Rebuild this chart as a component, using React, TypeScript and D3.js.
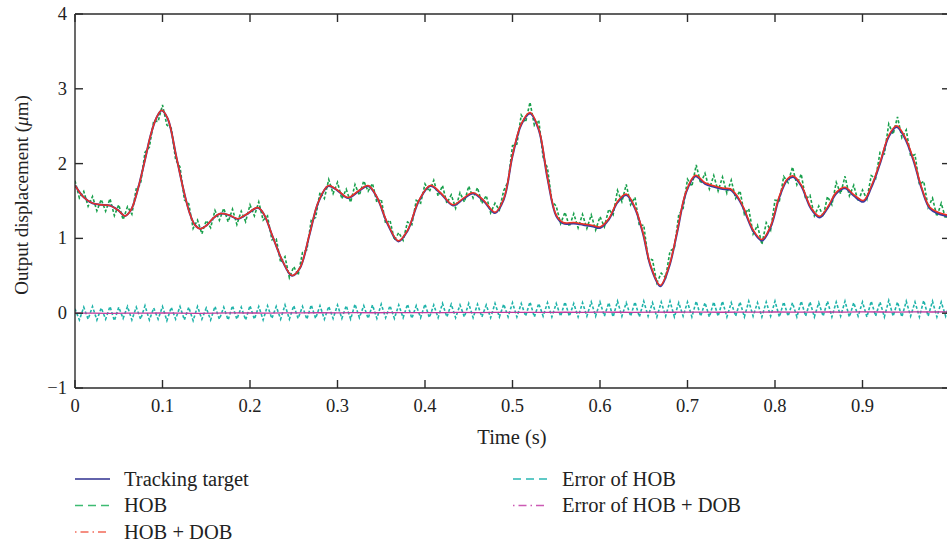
import React from "react";
import * as d3 from "d3";

// ---------- data ----------
const targetT = [
  0.0, 0.01, 0.02, 0.03, 0.04, 0.05, 0.057, 0.064, 0.071, 0.08, 0.086, 0.093, 0.099, 0.106, 0.116,
  0.124, 0.131, 0.137, 0.143, 0.15, 0.158, 0.166, 0.176, 0.186, 0.196, 0.209, 0.216, 0.226, 0.237,
  0.248, 0.257, 0.268, 0.278, 0.2895, 0.3, 0.312, 0.324, 0.335, 0.345, 0.357, 0.3695, 0.38, 0.393,
  0.406, 0.418, 0.432, 0.444, 0.455, 0.467, 0.48, 0.49, 0.5, 0.51, 0.52, 0.53, 0.54, 0.55, 0.558,
  0.57, 0.581, 0.592, 0.6, 0.61, 0.62, 0.63, 0.64, 0.649, 0.658, 0.669, 0.679, 0.688, 0.698, 0.709,
  0.72, 0.73, 0.74, 0.749, 0.757, 0.764, 0.775, 0.785, 0.795, 0.805, 0.814, 0.821, 0.83, 0.841,
  0.851, 0.86, 0.87, 0.88, 0.89, 0.901, 0.91, 0.92, 0.93, 0.939, 0.948, 0.958, 0.968, 0.977, 0.987,
  0.996, 1.0,
];
const targetV = [
  1.71, 1.55, 1.47, 1.45, 1.44, 1.37, 1.3, 1.38, 1.62, 2.05, 2.36, 2.61, 2.71, 2.6, 2.08,
  1.65, 1.34, 1.18, 1.13, 1.17, 1.27, 1.33, 1.31, 1.26, 1.32, 1.41, 1.32, 1.02, 0.7,
  0.5, 0.6, 1.05, 1.48, 1.7, 1.64, 1.54, 1.63, 1.7, 1.55, 1.2, 0.96, 1.1, 1.5,
  1.7, 1.6, 1.44, 1.53, 1.6, 1.5, 1.34, 1.52, 2.1, 2.52, 2.67, 2.45, 1.8, 1.3, 1.2,
  1.2, 1.18, 1.16, 1.14, 1.25, 1.48, 1.58, 1.4, 1.07, 0.62, 0.36, 0.62, 1.07, 1.6, 1.83,
  1.73, 1.69, 1.66, 1.65, 1.55, 1.4, 1.1, 0.97, 1.15, 1.55, 1.78, 1.82, 1.7, 1.4,
  1.28, 1.4, 1.6, 1.67, 1.57, 1.49, 1.68, 2.0, 2.36, 2.49, 2.35, 2.05, 1.65, 1.4, 1.33,
  1.3, 1.28,
];

// error of HOB, sampled every 0.005 s (0 .. 1 s)
const errHobStep = 0.005;
const errHob = [
  0.06, -0.09, 0.08, -0.08, 0.09, -0.09, 0.07, -0.08, 0.09, -0.1, 0.08, -0.07, 0.09, -0.09, 0.08, -0.08, 0.1, -0.09, 0.07, -0.08,
  0.09, -0.1, 0.08, -0.08, 0.09, -0.09, 0.08, -0.1, 0.09, -0.08, 0.07, -0.09, 0.09, -0.08, 0.08, -0.09, 0.1, -0.08, 0.08, -0.09,
  0.1, -0.08, 0.09, -0.09, 0.1, -0.07, 0.09, -0.08, 0.11, -0.08, 0.1, -0.07, 0.09, -0.08, 0.11, -0.07, 0.1, -0.08, 0.09, -0.07,
  0.11, -0.07, 0.1, -0.08, 0.12, -0.06, 0.1, -0.07, 0.11, -0.07, 0.12, -0.06, 0.1, -0.07, 0.11, -0.06, 0.12, -0.07, 0.1, -0.06,
  0.12, -0.06, 0.11, -0.06, 0.13, -0.05, 0.12, -0.06, 0.11, -0.05, 0.13, -0.06, 0.12, -0.05, 0.11, -0.06, 0.13, -0.05, 0.12, -0.05,
  0.14, -0.05, 0.13, -0.04, 0.15, -0.05, 0.13, -0.04, 0.14, -0.05, 0.13, -0.04, 0.15, -0.04, 0.13, -0.05, 0.14, -0.04, 0.15, -0.04,
  0.15, -0.04, 0.14, -0.05, 0.16, -0.04, 0.14, -0.04, 0.15, -0.05, 0.16, -0.04, 0.14, -0.05, 0.15, -0.04, 0.16, -0.05, 0.14, -0.04,
  0.15, -0.05, 0.16, -0.04, 0.14, -0.05, 0.15, -0.04, 0.16, -0.05, 0.14, -0.04, 0.15, -0.05, 0.16, -0.04, 0.14, -0.05, 0.15, -0.04,
  0.16, -0.05, 0.15, -0.04, 0.14, -0.05, 0.16, -0.04, 0.15, -0.05, 0.14, -0.04, 0.16, -0.05, 0.15, -0.04, 0.16, -0.05, 0.14, -0.04,
  0.15, -0.05, 0.16, -0.04, 0.15, -0.05, 0.17, -0.04, 0.15, -0.05, 0.16, -0.04, 0.15, -0.05, 0.17, -0.04, 0.16, -0.05, 0.15, -0.04,
  0.16,
];

// error of HOB + DOB, sampled every 0.02 s
const errDobStep = 0.02;
const errHobDob = [
  0.0, 0.002, -0.002, 0.001, 0.0, 0.003, 0.001, -0.001, 0.002, 0.004, 0.003, 0.002, 0.005, 0.004, 0.006, 0.005, 0.007,
  0.006, 0.008, 0.007, 0.009, 0.008, 0.01, 0.009, 0.011, 0.01, 0.012, 0.011, 0.013, 0.012, 0.014, 0.013, 0.012, 0.014,
  0.013, 0.015, 0.014, 0.013, 0.015, 0.014, 0.016, 0.015, 0.014, 0.016, 0.015, 0.017, 0.016, 0.015, 0.017, 0.016, 0.017,
];

const xTicks = [0, 0.1, 0.2, 0.3, 0.4, 0.5, 0.6, 0.7, 0.8, 0.9];
const yTicks = [-1, 0, 1, 2, 3, 4];

const legendItems = [
  { label: "Tracking target", color: "#2e2f8f", dash: "none", col: 0, row: 0 },
  { label: "HOB", color: "#3dbb72", dash: "8,5", col: 0, row: 1 },
  { label: "HOB + DOB", color: "#f26a58", dash: "1.5,4,8,4", col: 0, row: 2 },
  { label: "Error of HOB", color: "#2bb8b4", dash: "8,5", col: 1, row: 0 },
  { label: "Error of HOB + DOB", color: "#cc5ab4", dash: "1.5,4,8,4", col: 1, row: 1 },
];

// ---------- layout ----------
const W = 947;
const H = 544;
const M = { left: 75, right: 950, top: 14, bottom: 388 };
const FONT = "'Liberation Serif', 'Times New Roman', serif";
const AX = "#2b2b2b";

export default function App() {
  const x = d3.scaleLinear().domain([0, 1]).range([M.left, M.right]);
  const y = d3.scaleLinear().domain([-1, 4]).range([M.bottom, M.top]);

  // piecewise-linear lookups of the read series
  const targetAt = d3.scaleLinear().domain(targetT).range(targetV).clamp(true);
  const dobTimes = errHobDob.map((_, i) => i * errDobStep);
  const dobErrAt = d3.scaleLinear().domain(dobTimes).range(errHobDob).clamp(true);

  const targetPts: [number, number][] = targetT.map((t, i) => [t, targetV[i]]);
  const hobDobPts: [number, number][] = targetT.map((t, i) => [t, targetV[i] + dobErrAt(t)]);
  const hobPts: [number, number][] = errHob.map((e, i) => {
    const t = i * errHobStep;
    return [t, targetAt(t) + e];
  });
  const errHobPts: [number, number][] = errHob.map((e, i) => [i * errHobStep, e]);
  const errDobPts: [number, number][] = errHobDob.map((e, i) => [i * errDobStep, e]);

  const smooth = d3
    .line<[number, number]>()
    .x((d) => x(d[0]))
    .y((d) => y(d[1]))
    .curve(d3.curveCatmullRom.alpha(0.5));
  const straight = d3
    .line<[number, number]>()
    .x((d) => x(d[0]))
    .y((d) => y(d[1]));

  const tickLen = 8;

  return (
    <svg
      width={W}
      height={H}
      style={{ position: "absolute", left: 0, top: 0, background: "#fff" }}
      fontFamily={FONT}
    >
      <defs>
        <clipPath id="plotclip">
          <rect x={M.left} y={M.top} width={M.right - M.left} height={M.bottom - M.top} />
        </clipPath>
      </defs>

      {/* data */}
      <g clipPath="url(#plotclip)" fill="none">
        <path d={straight(errHobPts) || ""} stroke="#1fb3aa" strokeWidth={1.6} strokeDasharray="3,2" />
        <path d={straight(errDobPts) || ""} stroke="#c0399c" strokeWidth={1.3} />
        <path d={straight(hobPts) || ""} stroke="#18a04c" strokeWidth={1.6} strokeDasharray="3,2" />
        <path d={smooth(targetPts) || ""} stroke="#3a3aa0" strokeWidth={2} />
        <path d={smooth(hobDobPts) || ""} stroke="#ec3223" strokeWidth={1.5} />
      </g>

      {/* axes box */}
      <g stroke={AX} strokeWidth={1.4} fill="none">
        <line x1={M.left} y1={M.top} x2={M.left} y2={M.bottom} />
        <line x1={M.left} y1={M.bottom} x2={M.right} y2={M.bottom} />
        <line x1={M.left} y1={M.top} x2={M.right} y2={M.top} />
        <line x1={M.right} y1={M.top} x2={M.right} y2={M.bottom} />
        {xTicks.map((t) => (
          <g key={"xt" + t}>
            <line x1={x(t)} x2={x(t)} y1={M.bottom} y2={M.bottom - tickLen} />
            <line x1={x(t)} x2={x(t)} y1={M.top} y2={M.top + tickLen} />
          </g>
        ))}
        {yTicks.map((v) => (
          <g key={"yt" + v}>
            <line x1={M.left} x2={M.left + tickLen} y1={y(v)} y2={y(v)} />
            <line x1={M.right} x2={M.right - tickLen} y1={y(v)} y2={y(v)} />
          </g>
        ))}
      </g>

      {/* tick labels */}
      <g fill="#222" fontSize={18.5}>
        {xTicks.map((t) => (
          <text key={"xl" + t} x={x(t)} y={M.bottom + 24} textAnchor="middle">
            {t === 0 ? "0" : d3.format(".1f")(t)}
          </text>
        ))}
        {yTicks.map((v) => (
          <text key={"yl" + v} x={M.left - 8} y={y(v) + 6} textAnchor="end">
            {v < 0 ? "\u2212" + Math.abs(v) : String(v)}
          </text>
        ))}
      </g>

      {/* axis titles */}
      <text x={512} y={444} textAnchor="middle" fontSize={20.5} fill="#222">
        Time (s)
      </text>
      <text
        transform={`translate(28, 195) rotate(-90)`}
        textAnchor="middle"
        fontSize={19}
        fill="#222"
      >
        Output displacement (<tspan fontStyle="italic">μ</tspan>m)
      </text>

      {/* legend */}
      <g fontSize={20.5} fill="#222">
        {legendItems.map((it) => {
          const lx = it.col === 0 ? 75 : 513;
          const ly = 479 + it.row * 26.5;
          return (
            <g key={it.label}>
              <line
                x1={lx}
                x2={lx + 35}
                y1={ly}
                y2={ly}
                stroke={it.color}
                strokeWidth={1.6}
                strokeDasharray={it.dash === "none" ? undefined : it.dash}
              />
              <text x={lx + 49} y={ly + 6.5}>
                {it.label}
              </text>
            </g>
          );
        })}
      </g>
    </svg>
  );
}
